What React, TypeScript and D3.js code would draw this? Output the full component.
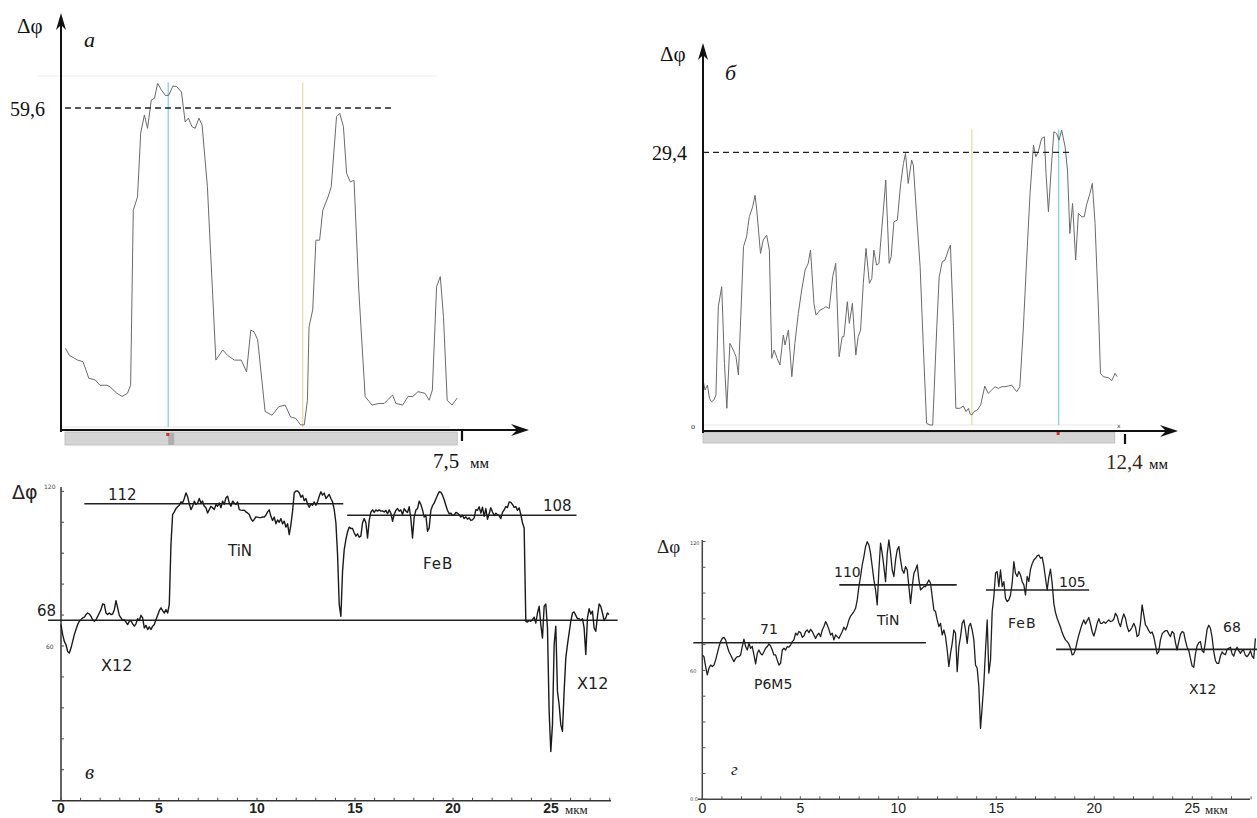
import React from 'react';
import * as d3 from 'd3';

// ---------- Panel а : Δφ profile, x in mm (0 … 7.5) ----------
const profileA: [number, number][] = [
  [0.01,14.7],[0.08,13.4],[0.24,12.5],[0.34,12.2],[0.45,9.1],[0.57,8.8],[0.66,7.8],[0.79,7.8],[0.85,7.5],[0.98,6.3],
  [1.08,5.7],[1.18,6.3],[1.24,7.8],[1.29,40.5],[1.37,43.0],[1.43,54.9],[1.50,58.3],[1.56,55.8],[1.63,61.1],[1.69,61.4],
  [1.75,64.2],[1.82,63.0],[1.90,61.9],[1.96,62.0],[2.04,63.7],[2.11,63.6],[2.20,62.6],[2.27,57.0],[2.33,57.7],[2.40,56.1],
  [2.46,55.8],[2.53,57.7],[2.59,56.4],[2.69,44.9],[2.85,12.5],[2.98,14.4],[3.07,13.4],[3.20,12.5],[3.33,12.5],[3.43,10.3],
  [3.51,18.1],[3.57,17.8],[3.64,16.3],[3.78,2.9],[3.91,2.2],[4.04,3.8],[4.16,4.1],[4.26,1.9],[4.36,1.6],[4.45,0.4],
  [4.52,0.4],[4.58,5.0],[4.61,18.7],[4.68,21.9],[4.74,34.9],[4.81,34.9],[4.87,40.5],[4.97,43.0],[5.03,44.9],[5.13,58.0],
  [5.19,58.6],[5.26,56.1],[5.32,47.4],[5.39,45.8],[5.46,46.1],[5.55,25.6],[5.67,5.7],[5.80,4.1],[5.93,4.4],[6.03,4.4],
  [6.09,5.0],[6.19,6.0],[6.25,4.4],[6.38,4.1],[6.48,5.7],[6.57,5.7],[6.67,6.6],[6.80,6.3],[6.88,5.0],[6.94,6.9],
  [7.02,26.2],[7.09,28.1],[7.15,20.6],[7.22,5.0],[7.31,4.1],[7.41,5.4]
];
const levelA = 59.6;
const levelAEnd = 6.22;
const cursorsA = [1.95, 4.49];
const cursorsATop = 64.4;
const barAEnd = 7.41;

// ---------- Panel б : Δφ profile, x in mm (0 … 12.4) ----------
const profileB: [number, number][] = [
  [0,4.85],[0.06,3.77],[0.13,4.31],[0.19,2.87],[0.25,2.51],[0.32,2.69],[0.38,3.23],[0.45,12.75],[0.55,14.91],[0.63,6.65],
  [0.70,1.80],[0.79,8.80],[0.89,8.08],[0.97,7.36],[1.04,5.39],[1.11,11.67],[1.19,19.22],[1.28,20.29],[1.36,22.45],[1.46,23.53],
  [1.53,24.78],[1.58,23.17],[1.69,18.50],[1.77,19.94],[1.87,20.47],[1.95,18.86],[2.02,7.18],[2.09,8.08],[2.18,7.18],[2.26,6.47],
  [2.36,9.70],[2.41,8.62],[2.51,10.24],[2.61,5.21],[2.70,8.80],[2.80,12.03],[2.90,14.55],[3.00,16.70],[3.09,17.42],[3.16,18.86],
  [3.26,13.11],[3.32,11.85],[3.44,12.39],[3.54,12.57],[3.61,12.75],[3.71,12.57],[3.81,15.98],[3.90,17.42],[4.00,7.36],[4.09,9.52],
  [4.14,9.52],[4.24,13.29],[4.30,10.96],[4.39,13.11],[4.49,7.54],[4.56,9.52],[4.63,10.24],[4.71,15.27],[4.79,19.04],[4.89,15.27],
  [4.96,15.80],[5.02,18.86],[5.10,17.24],[5.17,17.42],[5.25,21.01],[5.30,23.17],[5.37,26.40],[5.47,17.42],[5.53,18.14],[5.61,21.91],
  [5.71,22.09],[5.81,26.04],[5.89,28.20],[5.95,29.27],[6.03,26.04],[6.13,28.56],[6.18,28.02],[6.28,22.45],[6.38,17.06],[6.47,8.80],
  [6.57,0.18],[6.67,0],[6.75,0],[6.87,10.60],[6.94,15.98],[7.03,17.60],[7.11,17.78],[7.21,18.86],[7.27,19.40],[7.36,10.60],
  [7.43,1.80],[7.55,1.80],[7.65,2.05],[7.73,1.44],[7.80,1.80],[7.85,1.19],[7.90,1.08],[7.96,1.44],[8.06,1.62],[8.16,2.16],
  [8.28,4.20],[8.38,3.41],[8.48,3.77],[8.58,4.13],[8.68,3.95],[8.78,4.13],[8.87,4.13],[8.97,4.20],[9.07,4.31],[9.14,3.95],
  [9.22,3.59],[9.31,4.13],[9.41,10.24],[9.51,17.78],[9.61,24.96],[9.71,30.17],[9.78,28.92],[9.85,29.45],[9.95,30.89],[10.03,31.07],
  [10.08,27.12],[10.15,22.99],[10.24,28.02],[10.31,31.61],[10.39,31.43],[10.46,30.71],[10.54,31.79],[10.64,29.99],[10.71,27.48],[10.78,20.65],
  [10.86,23.89],[10.95,17.78],[11.03,22.81],[11.13,22.45],[11.20,22.45],[11.27,23.71],[11.37,24.96],[11.44,26.04],[11.52,21.73],[11.62,12.39],
  [11.68,5.57],[11.76,5.21],[11.91,5.10],[12.01,4.78],[12.11,5.57],[12.17,5.21]
];
const levelB = 29.4;
const levelBEnd = 10.83;
const cursorsB = [7.90, 10.45];
const cursorsBTop = 31.86;
const barBEnd = 12.1;

// ---------- Panel в : Δφ vs depth, μm, sampled every 0.085 μm ----------
const stepV = 0.085;
const profileV: number[] = [
  68.3,64.4,61.8,60.5,57.9,57.3,59.2,61.8,64.4,66.4,
  68.3,69.6,70.2,70.9,71.2,72.2,72.8,72.4,71.5,70.2,
  69.6,70.2,71.5,72.8,74.1,76.3,76.1,72.8,72.2,72.8,
  72.2,72.4,74.1,77.6,74.8,71.9,70.9,69.9,70.2,69.3,
  68.3,69.6,69.9,68.6,67.7,68.6,70.6,69.9,71.9,70.9,
  67.0,68.0,66.4,67.4,66.4,67.7,68.3,70.2,71.9,73.7,
  74.8,73.7,72.8,74.1,72.8,76.1,99.4,111.0,112.0,113.3,
  114.0,114.6,115.9,115.5,117.2,119.4,117.9,115.1,112.9,114.2,
  116.2,114.9,115.5,117.2,115.5,116.2,114.2,113.6,111.6,112.9,
  114.2,113.6,112.9,114.9,114.2,115.5,113.6,116.2,114.9,117.5,
  118.1,115.5,114.2,116.2,115.5,114.9,115.9,112.9,112.7,112.6,
  112.7,112.0,111.6,111.0,109.4,108.4,109.1,110.1,110.0,109.8,
  109.8,110.1,110.0,110.7,112.0,112.8,110.3,108.7,110.0,107.4,
  108.9,108.0,109.4,107.4,108.4,106.1,107.4,103.2,107.1,112.3,
  119.4,120.1,120.1,119.4,117.7,118.5,116.4,117.2,115.1,113.8,
  115.1,114.6,115.9,114.6,115.9,118.1,119.8,118.5,119.3,117.2,
  118.0,118.8,117.2,115.9,112.9,107.8,95.5,76.1,71.5,89.0,
  97.4,101.3,104.3,106.1,105.6,105.6,103.9,102.6,103.5,102.2,
  102.6,107.8,109.4,107.8,101.9,108.7,111.9,112.8,111.8,112.8,
  112.3,112.8,112.3,112.4,112.0,112.6,111.3,112.8,111.5,108.4,
  111.0,112.6,113.3,112.3,112.8,111.0,113.3,112.3,111.8,114.0,
  109.4,101.9,110.0,112.7,113.3,116.2,114.9,112.8,110.0,110.7,
  104.5,105.8,112.6,114.4,115.4,117.0,118.5,119.8,119.7,118.5,
  116.7,114.6,112.6,111.3,111.5,110.7,110.7,111.8,111.5,110.9,
  110.0,110.7,109.4,110.1,109.2,109.7,108.7,108.9,109.7,112.9,
  112.6,114.0,111.6,113.8,110.3,113.3,109.1,111.3,113.6,112.0,
  110.6,111.5,111.0,110.5,109.4,111.8,112.8,114.1,113.7,115.9,
  115.7,114.9,113.8,114.1,112.6,113.6,111.0,107.8,105.8,69.6,
  69.3,69.9,69.6,70.2,71.2,68.9,72.8,75.4,68.3,63.1,
  75.4,76.3,67.0,34.7,19.1,29.5,60.5,67.7,42.4,37.2,
  29.5,26.9,42.4,55.4,60.5,65.1,69.6,72.8,73.2,71.9,
  70.6,70.6,69.9,70.6,67.0,56.7,70.9,74.5,72.4,73.5,
  67.0,65.7,71.5,76.3,75.4,72.8,69.9,70.9,72.8,72.2
];
// level lines: [value on axis, from μm, to μm, label]
const levelsV: [number, number, number, string][] = [
  [115.2, 1.19, 14.4, '112'],
  [110.7, 14.6, 26.3, '108'],
  [70.0, -0.66, 28.4, '68']
];

// ---------- Panel г ----------
const stepG = 0.085;
const profileG: number[] = [
  67.2,66.4,61.8,57.9,61.0,62.5,61.8,62.5,64.8,67.9,
  71.1,73.4,74.9,75.4,74.2,71.1,68.7,67.2,65.6,64.1,
  65.6,66.4,66.4,67.2,71.1,74.5,71.1,69.5,72.6,70.3,
  71.1,67.2,63.0,67.9,69.5,67.9,67.2,68.7,70.3,71.1,
  72.3,71.4,69.5,67.2,67.2,64.8,62.5,63.3,69.5,70.3,
  69.5,71.1,70.8,71.8,73.4,74.2,77.3,76.5,78.1,77.6,
  75.4,76.0,78.1,78.8,77.6,79.1,78.1,76.5,74.9,76.5,
  77.3,75.7,78.8,80.4,82.7,81.2,79.1,76.5,77.3,74.2,
  76.5,75.7,74.9,76.5,78.1,80.1,78.8,80.7,83.5,85.3,
  86.3,87.4,88.9,92.8,99.0,103.7,109.1,113.0,117.6,119.9,
  118.4,114.5,108.3,102.1,97.5,90.5,106.8,119.2,114.5,108.3,
  101.3,114.5,120.7,114.5,106.8,103.7,111.4,116.1,117.6,111.4,
  106.8,105.2,108.3,106.8,99.0,91.2,99.0,105.2,106.8,109.1,
  102.1,97.5,98.2,99.0,99.0,100.6,102.1,100.6,94.3,88.1,
  87.4,83.5,80.4,81.9,76.5,78.8,75.7,69.5,61.8,67.9,
  72.6,78.8,77.3,59.4,71.1,75.7,81.9,83.5,78.8,72.6,
  80.4,81.9,78.8,74.2,62.5,61.0,52.4,33.0,43.1,54.0,
  69.5,83.5,58.7,64.8,87.4,94.3,105.2,106.0,99.0,106.8,
  99.0,101.3,93.6,92.0,92.8,95.1,100.6,110.6,105.2,103.7,
  106.0,104.4,101.3,99.8,95.1,103.7,101.3,107.1,109.6,111.4,
  112.2,113.3,113.7,112.2,112.7,108.6,102.9,97.5,103.3,107.1,
  100.6,91.2,86.9,84.3,82.2,80.1,77.6,75.7,74.2,73.4,
  72.3,70.3,67.2,67.7,69.8,73.4,76.5,79.1,81.6,83.5,
  81.6,83.2,84.6,81.6,78.1,76.0,78.5,81.9,84.1,81.9,
  81.9,82.7,81.9,82.7,83.5,82.7,83.0,83.8,86.6,85.3,
  82.2,80.4,83.8,86.3,84.3,80.4,78.1,78.8,80.1,81.9,
  80.1,75.7,76.5,81.9,90.5,85.8,81.2,80.1,78.5,77.3,
  77.9,75.7,71.8,67.7,68.7,74.2,77.0,77.9,78.5,78.5,
  77.0,75.7,78.1,77.3,72.9,69.5,73.4,76.8,78.1,77.6,
  73.9,70.8,69.2,65.6,62.1,61.4,67.7,71.4,72.9,73.4,
  69.2,68.3,73.4,79.1,81.0,79.6,75.4,68.7,64.5,63.3,
  63.3,66.7,68.6,67.7,67.3,69.8,70.3,70.8,67.7,66.7,
  69.2,70.8,69.2,67.9,69.2,69.2,67.0,66.4,67.4,69.2,
  66.7,65.6,74.9
];
const levelsG: [number, number, number, string][] = [
  [72.9, -0.46, 11.41, '71'],
  [99.8, 6.99, 12.98, '110'],
  [97.4, 14.47, 19.74, '105'],
  [69.8, 18.05, 28.4, '68']
];

const depthTickLabels = [0, 5, 10, 15, 20, 25];
const yTicksVG = d3.range(0, 121, 12);
const minorTicks = d3.range(0, 29, 1);

const SERIF = "'Liberation Serif','DejaVu Serif',serif";
const SANS = "'DejaVu Sans','Liberation Sans',sans-serif";

function arrowUp(x: number, tip: number) {
  return `M${x},${tip} L${x - 5},${tip + 17} L${x},${tip + 12} L${x + 5},${tip + 17} Z`;
}
function arrowRight(tip: number, y: number) {
  return `M${tip},${y} L${tip - 18},${y - 6} L${tip - 12},${y} L${tip - 18},${y + 6} Z`;
}

export default function App() {
  // scales
  const xa = d3.scaleLinear().domain([0, 7.5]).range([65, 462]);
  const ya = d3.scaleLinear().domain([0, 59.6]).range([427, 108]);
  const xb = d3.scaleLinear().domain([0, 12.4]).range([703, 1125]);
  const yb = d3.scaleLinear().domain([0, 29.4]).range([425, 152.3]);
  const xv = d3.scaleLinear().domain([0, 25]).range([61, 551]);
  const yv = d3.scaleLinear().domain([0, 120]).range([800.7, 491.3]);
  const xg = d3.scaleLinear().domain([0, 25]).range([702.3, 1192.3]);
  const yg = d3.scaleLinear().domain([0, 120]).range([799.3, 541.5]);

  const lineA = d3.line<[number, number]>().x(d => xa(d[0])).y(d => ya(d[1]));
  const lineB = d3.line<[number, number]>().x(d => xb(d[0])).y(d => yb(d[1]));
  const lineV = d3.line<number>().x((_, i) => xv(i * stepV)).y(d => yv(d));
  const lineG = d3.line<number>().x((_, i) => xg(i * stepG)).y(d => yg(d));

  const cursorColors = ['#86d4d6', '#e6dfa2'];
  const cursorColorsB = ['#e6dfa2', '#86d4d6'];

  return (
    <svg width={1257} height={818} style={{ position: 'absolute', left: 0, top: 0, background: '#fff' }}>
      <rect x={0} y={0} width={1257} height={818} fill="#fff" />

      {/* ================= Panel а ================= */}
      <g>
        <line x1={37} y1={76} x2={437} y2={76} stroke="#f0f0f0" />
        <line x1={62} y1={427} x2={450} y2={427} stroke="#e6e6e6" />
        <rect x={xa(0)} y={432} width={xa(barAEnd) - xa(0)} height={13} fill="#d4d4d4" stroke="#b8b8b8" strokeWidth={0.8} />
        <rect x={xa(1.95)} y={433} width={6} height={12} fill="#b0b0b0" />
        <rect x={xa(1.95) - 2} y={433} width={3} height={3} fill="#d03030" />
        {cursorsA.map((c, i) => (
          <line key={i} x1={xa(c)} x2={xa(c)} y1={ya(cursorsATop)} y2={ya(0)} stroke={cursorColors[i]} strokeWidth={1.3} />
        ))}
        <path d={lineA(profileA) || ''} fill="none" stroke="#6a6a6a" strokeWidth={1} />
        <line x1={xa(0)} x2={xa(levelAEnd)} y1={ya(levelA)} y2={ya(levelA)} stroke="#222" strokeWidth={1.3} strokeDasharray="6,4" />
        <line x1={61} y1={432} x2={61} y2={24} stroke="#111" strokeWidth={2} />
        <path d={arrowUp(61, 13)} fill="#111" />
        <line x1={60} y1={430} x2={518} y2={430} stroke="#111" strokeWidth={2} />
        <path d={arrowRight(529, 430)} fill="#111" />
        <line x1={xa(7.5)} x2={xa(7.5)} y1={431} y2={441} stroke="#111" strokeWidth={2.2} />
        <text x={17} y={33} fontFamily={SERIF} fontSize={21} fill="#111">Δφ</text>
        <text x={84} y={47} fontFamily={SERIF} fontSize={22} fontStyle="italic" fill="#111">а</text>
        <text x={10} y={116} fontFamily={SERIF} fontSize={20} fill="#111">59,6</text>
        <text x={433} y={468} fontFamily={SERIF} fontSize={21} fill="#111">7,5</text>
        <text x={470} y={468} fontFamily={SERIF} fontSize={15} fill="#111">мм</text>
      </g>

      {/* ================= Panel б ================= */}
      <g>
        <line x1={703} y1={425} x2={1118} y2={425} stroke="#e6e6e6" />
        <rect x={xb(0)} y={432} width={xb(barBEnd) - xb(0)} height={11} fill="#d4d4d4" stroke="#b8b8b8" strokeWidth={0.8} />
        <rect x={xb(10.45) - 2} y={432} width={3} height={3} fill="#d03030" />
        {cursorsB.map((c, i) => (
          <line key={i} x1={xb(c)} x2={xb(c)} y1={yb(cursorsBTop)} y2={yb(0)} stroke={cursorColorsB[i]} strokeWidth={1.3} />
        ))}
        <path d={lineB(profileB) || ''} fill="none" stroke="#6a6a6a" strokeWidth={1} />
        <line x1={xb(0)} x2={xb(levelBEnd)} y1={yb(levelB)} y2={yb(levelB)} stroke="#222" strokeWidth={1.3} strokeDasharray="6,4" />
        <line x1={703} y1={433} x2={703} y2={54} stroke="#111" strokeWidth={2} />
        <path d={arrowUp(703, 43)} fill="#111" />
        <line x1={702} y1={431} x2={1167} y2={431} stroke="#111" strokeWidth={2} />
        <path d={arrowRight(1178, 431)} fill="#111" />
        <line x1={xb(12.4)} x2={xb(12.4)} y1={434} y2={444} stroke="#111" strokeWidth={2.2} />
        <text x={691} y={429} fontFamily={SERIF} fontSize={8} fill="#222">o</text>
        <text x={1117} y={428} fontFamily={SANS} fontSize={6} fill="#333">x</text>
        <text x={660} y={61} fontFamily={SERIF} fontSize={21} fill="#111">Δφ</text>
        <text x={725} y={80} fontFamily={SERIF} fontSize={22} fontStyle="italic" fill="#111">б</text>
        <text x={652} y={160} fontFamily={SERIF} fontSize={20} fill="#111">29,4</text>
        <text x={1106} y={469} fontFamily={SERIF} fontSize={21} fill="#3a2618">12,4</text>
        <text x={1149} y={469} fontFamily={SERIF} fontSize={15} fill="#111">мм</text>
      </g>

      {/* ================= Panel в ================= */}
      <g>
        <line x1={61} y1={yv(0)} x2={61} y2={487} stroke="#333" strokeWidth={1.5} />
        {yTicksVG.map(t => (
          <line key={t} x1={61} x2={64} y1={yv(t)} y2={yv(t)} stroke="#444" strokeWidth={1} />
        ))}
        <line x1={52} y1={yv(0)} x2={611} y2={yv(0)} stroke="#333" strokeWidth={1.5} />
        {minorTicks.map(t => (
          <line key={t} x1={xv(t)} x2={xv(t)} y1={yv(0)} y2={yv(0) - 3} stroke="#444" strokeWidth={1} />
        ))}
        {levelsV.map((l, i) => (
          <line key={i} x1={xv(l[1])} x2={xv(l[2])} y1={yv(l[0])} y2={yv(l[0])} stroke="#222" strokeWidth={1.5} />
        ))}
        <path d={lineV(profileV) || ''} fill="none" stroke="#1a1a1a" strokeWidth={1.4} strokeLinejoin="round" />
        <text x={12} y={499} fontFamily={SANS} fontSize={19} fill="#222">Δφ</text>
        <text x={44} y={489} fontFamily={SANS} fontSize={6} fill="#444">120</text>
        <text x={46} y={649} fontFamily={SANS} fontSize={6} fill="#444">60</text>
        <text x={108} y={500} fontFamily={SANS} fontSize={15} fill="#222">112</text>
        <text x={543} y={511} fontFamily={SANS} fontSize={15} fill="#222">108</text>
        <text x={37} y={616} fontFamily={SANS} fontSize={15} fill="#222">68</text>
        <text x={228} y={556} fontFamily={SANS} fontSize={15} fill="#222">TiN</text>
        <text x={423} y={569} fontFamily={SANS} fontSize={15} fill="#222" letterSpacing={1}>FeB</text>
        <text x={101} y={671} fontFamily={SANS} fontSize={16} fill="#222">X12</text>
        <text x={577} y={689} fontFamily={SANS} fontSize={16} fill="#222">X12</text>
        <text x={85} y={779} fontFamily={SERIF} fontSize={21} fontStyle="italic" fill="#222">в</text>
        {depthTickLabels.map(t => (
          <text key={t} x={xv(t)} y={813} textAnchor="middle" fontFamily="'Liberation Sans',Arial,sans-serif" fontWeight="bold" fontSize={14} fill="#222">{t}</text>
        ))}
        <text x={565} y={814} fontFamily={SERIF} fontSize={13} fill="#222">мкм</text>
      </g>

      {/* ================= Panel г ================= */}
      <g>
        <line x1={702.3} y1={yg(0)} x2={702.3} y2={540} stroke="#444" strokeWidth={1.5} />
        {yTicksVG.map(t => (
          <line key={t} x1={702.3} x2={705.5} y1={yg(t)} y2={yg(t)} stroke="#555" strokeWidth={1} />
        ))}
        <line x1={698} y1={yg(0)} x2={1250} y2={yg(0)} stroke="#444" strokeWidth={1.5} />
        {minorTicks.map(t => (
          <line key={t} x1={xg(t)} x2={xg(t)} y1={yg(0)} y2={yg(0) - 3} stroke="#555" strokeWidth={1} />
        ))}
        {levelsG.map((l, i) => (
          <line key={i} x1={xg(l[1])} x2={xg(l[2])} y1={yg(l[0])} y2={yg(l[0])} stroke="#222" strokeWidth={1.6} />
        ))}
        <path d={lineG(profileG) || ''} fill="none" stroke="#1f1f1f" strokeWidth={1.3} strokeLinejoin="round" />
        <text x={657} y={553} fontFamily={SERIF} fontSize={19} fill="#222">Δφ</text>
        <text x={690} y={545} fontFamily={SANS} fontSize={5} fill="#444">120</text>
        <text x={690} y={673} fontFamily={SANS} fontSize={5} fill="#444">60</text>
        <text x={690} y={801} fontFamily={SANS} fontSize={5} fill="#444">0.0</text>
        <text x={760} y={634} fontFamily={SANS} fontSize={14} fill="#222">71</text>
        <text x={834} y={577} fontFamily={SANS} fontSize={14} fill="#222">110</text>
        <text x={1059} y={587} fontFamily={SANS} fontSize={14} fill="#222">105</text>
        <text x={1223} y={632} fontFamily={SANS} fontSize={14} fill="#222">68</text>
        <text x={877} y={625} fontFamily={SANS} fontSize={14} fill="#222">TiN</text>
        <text x={1008} y={628} fontFamily={SANS} fontSize={14} fill="#222" letterSpacing={1}>FeB</text>
        <text x={754} y={689} fontFamily={SANS} fontSize={14} fill="#222">P6M5</text>
        <text x={1189} y={694} fontFamily={SANS} fontSize={14} fill="#222">X12</text>
        <text x={731} y={775} fontFamily={SERIF} fontSize={17} fontStyle="italic" fill="#222">г</text>
        {depthTickLabels.map(t => (
          <text key={t} x={xg(t)} y={813} textAnchor="middle" fontFamily="'Liberation Sans',Arial,sans-serif" fontSize={14} fill="#222">{t}</text>
        ))}
        <text x={1205} y={814} fontFamily={SERIF} fontSize={13} fill="#222">мкм</text>
      </g>
    </svg>
  );
}
